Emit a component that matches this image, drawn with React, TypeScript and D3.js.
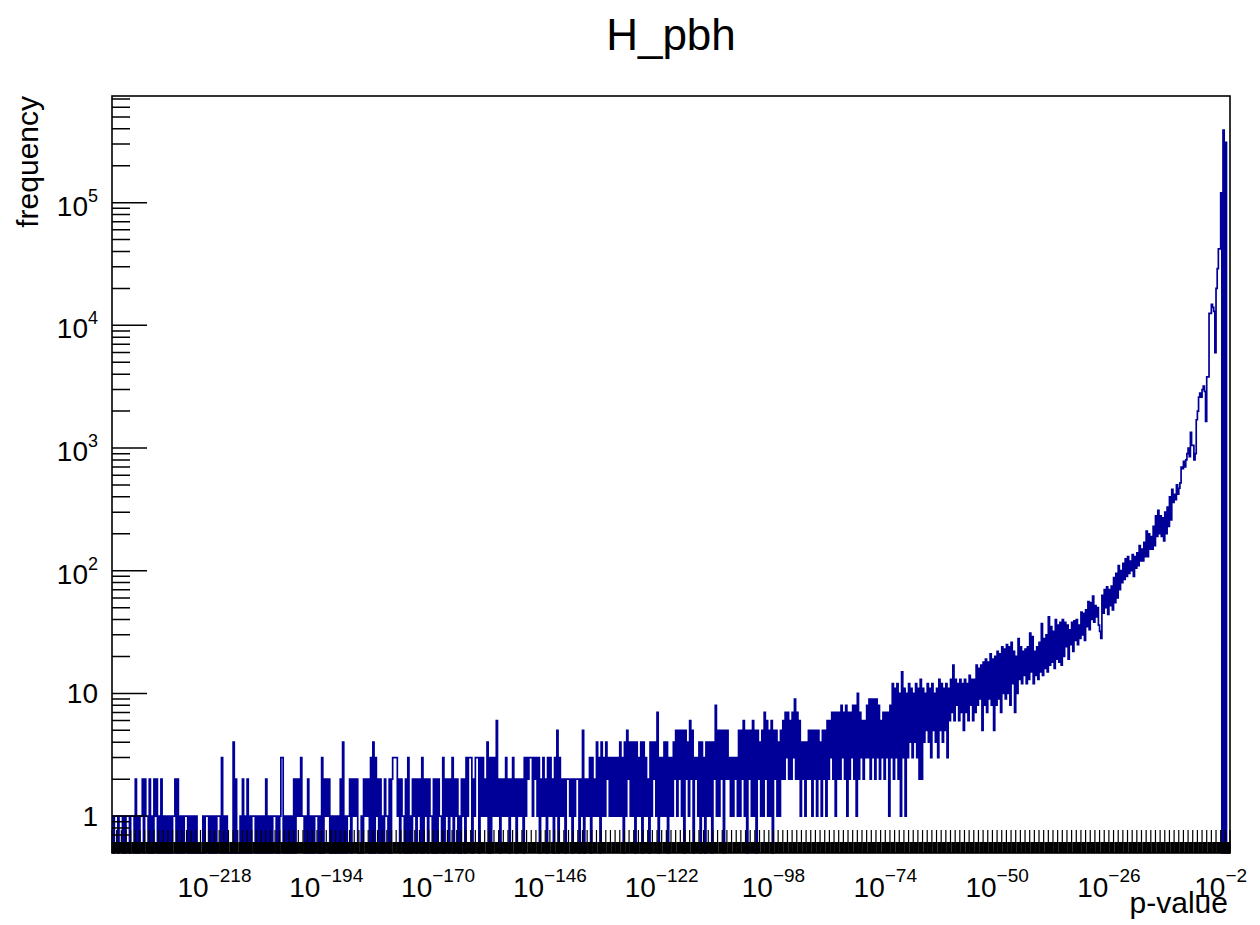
import React from 'react';
import * as d3 from 'd3';

// ROOT canvas geometry
const W = 1260;
const H = 925;
const frame = { left: 112, right: 1230, top: 96, bottom: 853 };

// axis ranges: x is log10(p-value), y is the bin count (log)
const logPMin = -240;
const logPMax = 0;
const binWidth = 0.25;
const countMin = 0.5;
const countMax = 7.4e5;

const xLabelExponents = [-218, -194, -170, -146, -122, -98, -74, -50, -26, -2];
const yLabelExponents = [0, 1, 2, 3, 4, 5];

const title = 'H_pbh';
const xTitle = 'p-value';
const yTitle = 'frequency';

// bin contents, one bin per 0.25 decade, each row = 12 decades
// log10(p) from -240 to -132
const tailCounts = [
  1, 0, 1, 1, 1, 0, 1, 1, 1, 0, 1, 0, 1, 1, 1, 0, 1, 1, 1, 0, 2, 0, 1, 0, 1, 1, 2, 0, 2, 1, 1, 0, 2, 0, 1, 0, 2, 1, 2, 0, 1, 0, 2, 0, 1, 0, 1, 0,
  1, 0, 1, 0, 1, 1, 2, 0, 2, 0, 1, 0, 1, 0, 1, 1, 1, 0, 1, 0, 1, 0, 1, 0, 1, 0, 0, 0, 0, 0, 1, 0, 1, 1, 1, 0, 1, 0, 1, 0, 1, 0, 1, 1, 1, 0, 3, 0,
  1, 0, 1, 0, 0, 0, 0, 0, 4, 0, 2, 0, 0, 0, 1, 0, 2, 0, 1, 0, 2, 0, 1, 0, 1, 1, 1, 0, 1, 0, 1, 0, 1, 0, 1, 0, 2, 0, 1, 0, 1, 0, 1, 1, 1, 0, 1, 0,
  1, 3, 3, 0, 1, 0, 1, 0, 1, 0, 1, 0, 2, 0, 2, 1, 2, 1, 3, 1, 1, 0, 1, 0, 2, 0, 1, 0, 1, 0, 1, 1, 1, 0, 1, 0, 3, 0, 2, 1, 2, 1, 2, 0, 1, 0, 1, 0,
  1, 0, 1, 0, 2, 0, 4, 0, 1, 0, 1, 1, 2, 0, 2, 1, 2, 1, 2, 0, 0, 0, 1, 0, 2, 1, 2, 1, 2, 0, 3, 0, 4, 0, 3, 1, 2, 0, 2, 0, 1, 0, 2, 1, 1, 0, 2, 0,
  2, 3, 3, 3, 3, 1, 2, 0, 2, 1, 1, 0, 2, 0, 3, 0, 1, 0, 2, 1, 2, 0, 2, 1, 2, 0, 3, 0, 2, 1, 2, 0, 2, 1, 1, 0, 2, 0, 2, 0, 2, 1, 1, 0, 3, 0, 2, 1,
  2, 0, 2, 1, 3, 0, 2, 1, 2, 0, 1, 0, 2, 1, 2, 0, 3, 1, 3, 3, 3, 0, 2, 1, 3, 3, 3, 0, 3, 1, 3, 1, 2, 1, 4, 0, 3, 0, 3, 1, 3, 1, 6, 1, 2, 0, 2, 1,
  2, 1, 3, 1, 2, 0, 2, 1, 3, 1, 2, 0, 2, 1, 2, 1, 2, 0, 3, 1, 3, 2, 3, 3, 3, 1, 3, 2, 3, 1, 3, 0, 2, 1, 3, 1, 2, 0, 3, 1, 3, 1, 2, 0, 3, 1, 5, 0,
  3, 1, 2, 1, 2, 0, 2, 2, 2, 1, 2, 0, 2, 1, 2, 2, 2, 0, 2, 1, 5, 0, 2, 1, 2, 1, 3, 0, 3, 1, 2, 1, 4, 1, 3, 0, 4, 1, 3, 1, 4, 2, 3, 1, 3, 1, 3, 1,
];

// log10(p) from -132 to -72
const midCounts = [
  3, 1, 3, 1, 4, 1, 3, 0, 4, 1, 5, 2, 4, 1, 4, 1, 4, 0, 4, 1, 3, 1, 4, 0, 4, 1, 3, 1, 2, 0, 4, 1, 4, 2, 4, 1, 7, 0, 3, 1, 3, 1, 4, 1, 4, 0, 3, 1,
  3, 1, 4, 2, 5, 1, 5, 2, 5, 1, 5, 0, 5, 2, 4, 1, 6, 2, 5, 0, 3, 2, 3, 1, 4, 0, 4, 1, 3, 0, 4, 1, 4, 1, 4, 0, 4, 2, 8, 1, 5, 1, 5, 2, 5, 0, 5, 2,
  5, 2, 3, 1, 3, 1, 3, 2, 3, 1, 5, 1, 5, 2, 6, 1, 5, 0, 5, 2, 5, 1, 6, 1, 5, 0, 5, 2, 4, 1, 5, 1, 7, 2, 6, 1, 5, 1, 6, 0, 5, 2, 5, 1, 4, 1, 5, 2,
  6, 2, 7, 3, 7, 2, 6, 2, 7, 3, 9, 2, 7, 2, 6, 1, 4, 2, 4, 1, 4, 2, 5, 2, 5, 1, 5, 2, 5, 1, 5, 2, 4, 1, 5, 2, 5, 1, 6, 2, 6, 3, 7, 2, 7, 1, 7, 2,
  7, 2, 8, 3, 7, 2, 8, 1, 7, 2, 7, 3, 8, 2, 8, 1, 10, 2, 7, 3, 6, 2, 6, 3, 8, 3, 9, 2, 9, 3, 9, 2, 9, 3, 8, 2, 6, 3, 7, 2, 7, 3, 7, 1, 8, 3, 12, 2,
];

// log10(p) from -72 to -12
const riseCounts = [
  11, 3, 12, 2, 10, 1, 15, 3, 11, 1, 10, 3, 12, 4, 11, 3, 10, 4, 12, 3, 11, 2, 13, 2, 11, 4, 10, 5, 12, 4, 11, 3, 12, 5, 10, 4, 11, 3, 13, 5, 12, 4, 11, 5, 12, 3, 11, 6,
  13, 7, 17, 6, 13, 8, 12, 6, 13, 7, 12, 5, 13, 7, 12, 6, 14, 8, 13, 6, 13, 7, 17, 8, 16, 9, 17, 5, 18, 8, 19, 7, 18, 9, 21, 8, 19, 5, 20, 8, 22, 9, 21, 7, 24, 10, 23, 9,
  25, 10, 24, 8, 26, 12, 22, 7, 20, 10, 28, 13, 24, 12, 22, 14, 23, 12, 24, 13, 31, 15, 29, 12, 22, 14, 24, 13, 26, 15, 37, 14, 28, 16, 30, 15, 42, 17, 35, 18, 32, 16, 40, 19, 36, 18, 38, 17,
  40, 20, 38, 24, 36, 19, 33, 25, 38, 22, 39, 27, 40, 25, 36, 28, 46, 30, 45, 27, 48, 35, 56, 33, 55, 40, 62, 38, 52, 42, 50, 36, 32, 28, 63, 45, 70, 50, 74, 44, 70, 52, 75, 48, 88, 55, 95, 60,
  110, 70, 100, 80, 115, 85, 125, 90, 130, 95, 120, 100, 135, 90, 130, 105, 140, 110, 160, 120, 150, 120, 170, 130, 210, 130, 200, 150, 190, 150, 230, 160, 280, 190, 310, 200, 280, 190, 270, 175, 300, 200, 330, 230, 400, 260, 460, 360,
];

// log10(p) from -12 to 0
const peakCounts = [
  420, 380, 500, 420, 470, 520, 700, 680, 780, 700, 800, 900, 1000, 850, 1340, 1050, 1050, 800, 900, 1700, 2000, 2600, 2800, 2600,
  3000, 3200, 2900, 1650, 3800, 3800, 12500, 12500, 14800, 14000, 13000, 6000, 20000, 29000, 42000, 42000, 120000, 0, 390000, 0, 310000, 0, 0, 0,
];

const counts = [...tailCounts, ...midCounts, ...riseCounts, ...peakCounts];

const FONT = '"Liberation Sans", Arial, Helvetica, sans-serif';
const HIST_COLOR = '#000099';

export default function App() {
  const x = d3.scaleLinear().domain([logPMin, logPMax]).range([frame.left, frame.right]);
  const y = d3.scaleLog().domain([countMin, countMax]).range([frame.bottom, frame.top]);

  // histogram outline (ROOT "HIST" style, empty bins sit on the bottom)
  const pts: [number, number][] = counts.map((c, i) => [
    x(logPMin + i * binWidth),
    y(Math.max(c, countMin)),
  ]);
  pts.push([x(logPMin + counts.length * binWidth), pts[pts.length - 1][1]]);
  const histPath = d3.line().curve(d3.curveStepAfter)(pts) || '';

  // x axis ticks: every decade, plus 2..9 inside each decade
  const decades = d3.range(logPMin, logPMax + 1);
  const subDecades = decades
    .slice(0, -1)
    .flatMap((e) => d3.range(2, 10).map((k) => e + Math.log10(k)));
  let xTallPath = '';
  decades.forEach((e) => {
    xTallPath += `M${x(e)},${frame.bottom}V${frame.bottom - 23}`;
  });
  let xShortPath = '';
  subDecades.forEach((e) => {
    xShortPath += `M${x(e)},${frame.bottom}V${frame.bottom - 11}`;
  });

  // y axis ticks
  const yMajor = yLabelExponents.map((e) => Math.pow(10, e));
  const yMinor = d3
    .range(-1, 6)
    .flatMap((e) => d3.range(2, 10).map((k) => k * Math.pow(10, e)))
    .filter((v) => v > countMin && v < countMax);
  let yTickPath = '';
  yMajor.forEach((v) => {
    yTickPath += `M${frame.left},${y(v)}H${frame.left + 35}`;
  });
  yMinor.forEach((v) => {
    yTickPath += `M${frame.left},${y(v)}H${frame.left + 18}`;
  });

  return (
    <svg
      width={W}
      height={H}
      style={{ position: 'absolute', left: 0, top: 0, background: '#fff' }}
      fontFamily={FONT}
    >
      <rect x={0} y={0} width={W} height={H} fill="#fff" />

      <path d={histPath} fill="none" stroke={HIST_COLOR} strokeWidth={1.7} />

      <path d={xTallPath} stroke="#000" strokeWidth={1.2} fill="none" />
      <path d={xShortPath} stroke="#000" strokeWidth={1.4} fill="none" />
      <path d={yTickPath} stroke="#000" strokeWidth={1.5} fill="none" />

      <rect
        x={frame.left}
        y={frame.top}
        width={frame.right - frame.left}
        height={frame.bottom - frame.top}
        fill="none"
        stroke="#000"
        strokeWidth={1.6}
      />

      {/* x labels */}
      {xLabelExponents.map((e) => (
        <text key={e} x={x(e)} y={897} textAnchor="middle" fontSize={28} fill="#000">
          10
          <tspan fontSize={19} dy={-15}>
            {`\u2212${Math.abs(e)}`}
          </tspan>
        </text>
      ))}

      {/* y labels */}
      {yLabelExponents.map((e) => {
        const ty = y(Math.pow(10, e));
        if (e === 0)
          return (
            <text key={e} x={98} y={ty + 10} textAnchor="end" fontSize={28}>
              1
            </text>
          );
        if (e === 1)
          return (
            <text key={e} x={98} y={ty + 10} textAnchor="end" fontSize={28}>
              10
            </text>
          );
        return (
          <text key={e} x={98} y={ty + 13} textAnchor="end" fontSize={28}>
            10
            <tspan fontSize={18} dy={-14}>
              {e}
            </tspan>
          </text>
        );
      })}

      <text x={671} y={50} textAnchor="middle" fontSize={44}>
        {title}
      </text>
      <text x={1228} y={913} textAnchor="end" fontSize={30}>
        {xTitle}
      </text>
      <text
        transform={`translate(38,${frame.top}) rotate(-90)`}
        textAnchor="end"
        fontSize={30}
      >
        {yTitle}
      </text>
    </svg>
  );
}
